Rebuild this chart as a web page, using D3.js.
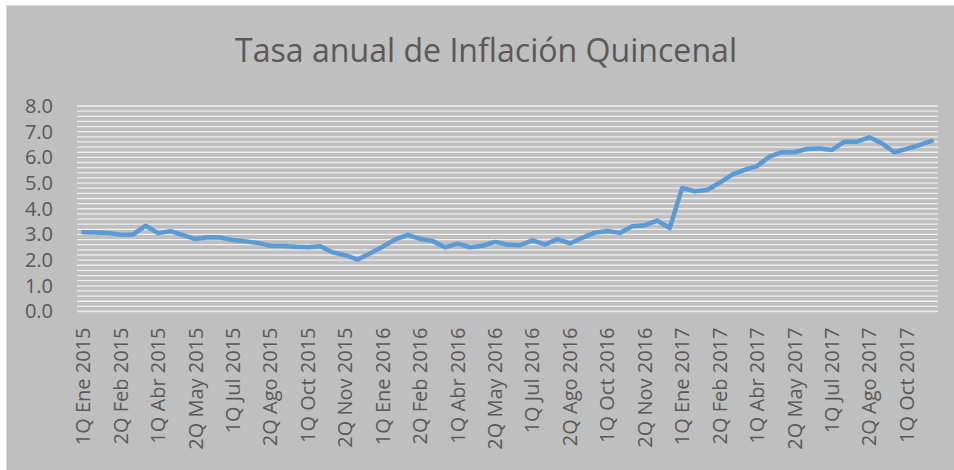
<!DOCTYPE html>
<html>
<head>
<meta charset="utf-8">
<script src="https://cdn.jsdelivr.net/npm/d3@7"></script>
<style>
	body { margin: 0; background: #fff; }
	text { font-family: "Open Sans", "Noto Sans", sans-serif; fill: #595959; }
</style>
</head>
<body>
<svg id="chart" width="954" height="470"></svg>
<script>
var title = 'Tasa anual de Inflación Quincenal';
var months = ['Ene','Feb','Mar','Abr','May','Jun','Jul','Ago','Sep','Oct','Nov','Dic'];
var years = [2015, 2016, 2017];
var yTicks = [0, 1, 2, 3, 4, 5, 6, 7, 8];

// one value per quincena, 1Q Ene 2015 .. 1Q Nov 2017
var inflation = [
	3.09, 3.08, 3.06, 2.99, 3.00, 3.34, 3.05, 3.13, 2.97, 2.82,
	2.89, 2.88, 2.78, 2.73, 2.67, 2.56, 2.55, 2.52, 2.50, 2.54,
	2.30, 2.19, 2.02, 2.27, 2.52, 2.81, 2.98, 2.83, 2.74, 2.50,
	2.64, 2.50, 2.56, 2.71, 2.60, 2.58, 2.77, 2.61, 2.82, 2.65,
	2.87, 3.07, 3.13, 3.06, 3.32, 3.36, 3.54, 3.25, 4.81, 4.68,
	4.73, 5.01, 5.33, 5.51, 5.66, 6.03, 6.20, 6.20, 6.33, 6.35,
	6.29, 6.61, 6.61, 6.78, 6.55, 6.20, 6.33, 6.48, 6.64
];

var categories = [];
years.forEach(function(yr){
	months.forEach(function(m){
		['1Q', '2Q'].forEach(function(q){
			categories.push(q + ' ' + m + ' ' + yr);
		});
	});
});
categories = categories.slice(0, inflation.length);

var data = inflation.map(function(v, i){ return {cat : categories[i], val : v}; });

var svg = d3.select('#chart');

var margin = {left : 77, right : 16, top : 106, bottom : 158.5};
var plotRight = 954 - margin.right,
	plotBottom = 470 - margin.bottom;

// panel
svg.append('rect')
	.attr('x', 6.5).attr('y', 5.5)
	.attr('width', 950).attr('height', 470)
	.attr('fill', '#bfbfbf')
	.attr('stroke', '#d9d9d9');

var x = d3.scaleBand()
	.domain(categories)
	.range([margin.left, plotRight]);

var y = d3.scaleLinear()
	.domain([0, 8])
	.range([plotBottom, margin.top]);

// gridlines every 0.2
var gridVals = d3.range(0, 41).map(function(i){ return i / 5; });
svg.append('g')
	.attr('class', 'grid')
	.selectAll('line')
	.data(gridVals)
	.enter()
	.append('line')
	.attr('x1', margin.left)
	.attr('x2', plotRight)
	.attr('y1', function(d){ return y(d); })
	.attr('y2', function(d){ return y(d); })
	.attr('stroke', '#eeeeee')
	.attr('stroke-width', 1.3);

// y axis
var yAxis = svg.append('g')
	.attr('transform', 'translate(' + margin.left + ',0)')
	.call(d3.axisLeft(y).tickValues(yTicks).tickFormat(d3.format('.1f')).tickSize(0).tickPadding(24));
yAxis.select('.domain').remove();
yAxis.selectAll('text')
	.style('font-size', '20px')
	.style('fill', '#595959');

// x axis, every third label
var xTicks = categories.filter(function(d, i){ return i % 3 === 0; });
var xAxis = svg.append('g')
	.attr('transform', 'translate(0,' + plotBottom + ')')
	.call(d3.axisBottom(x).tickValues(xTicks).tickSize(0));
xAxis.select('.domain').remove();
xAxis.selectAll('text')
	.attr('transform', 'rotate(-90)')
	.attr('x', -16)
	.attr('y', 0)
	.attr('dy', '0.35em')
	.style('text-anchor', 'end')
	.style('font-size', '20px')
	.style('fill', '#595959');

// line
var line = d3.line()
	.x(function(d){ return x(d.cat) + x.bandwidth() / 2; })
	.y(function(d){ return y(d.val); });

svg.append('path')
	.datum(data)
	.attr('d', line)
	.attr('fill', 'none')
	.attr('stroke', '#5b9bd5')
	.attr('stroke-width', 4.5)
	.attr('stroke-linejoin', 'round')
	.attr('stroke-linecap', 'round');

// title
svg.append('text')
	.attr('x', 486)
	.attr('y', 62)
	.attr('text-anchor', 'middle')
	.attr('textLength', 502)
	.attr('lengthAdjust', 'spacingAndGlyphs')
	.style('font-size', '33px')
	.text(title);
</script>
</body>
</html>
